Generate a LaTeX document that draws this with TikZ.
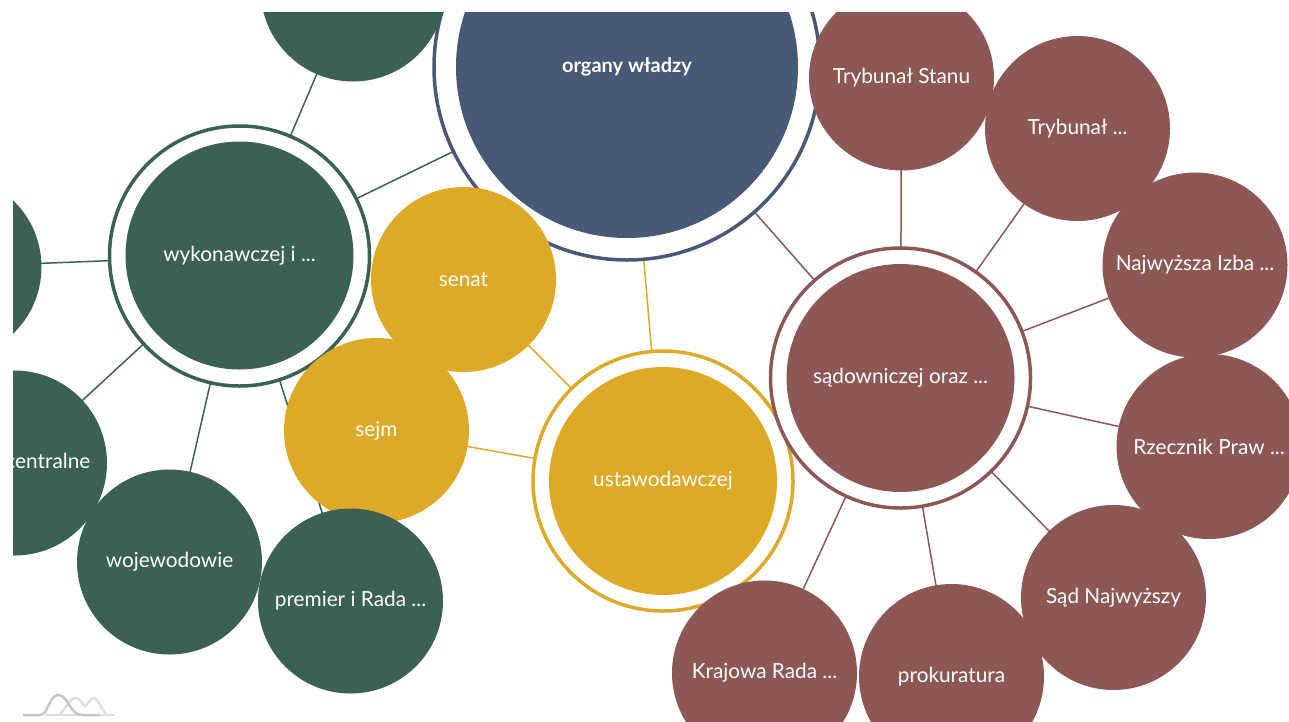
\documentclass[tikz,border=0pt]{standalone}
\usepackage{fontspec}
\setmainfont{Lato}
\usetikzlibrary{backgrounds}
\definecolor{rootblue}{HTML}{485877}
\definecolor{execgreen}{HTML}{3B6054}
\definecolor{lawgold}{HTML}{DDA927}
\definecolor{courtbrown}{HTML}{8C5755}
\tikzset{
  leaf/.style={circle, fill=#1, text=white, minimum size=185pt, inner sep=0pt, font=\fontsize{20.8}{24}\selectfont},
  hub/.style={circle, fill=#1, text=white, minimum size=228pt, inner sep=0pt, font=\fontsize{20.8}{24}\selectfont},
  ring/.style={circle, draw=#1, line width=3.5pt, fill=white, minimum size=260pt, inner sep=0pt},
  link/.style={line width=1.5pt, draw=#1},
}
\begin{document}
\begin{tikzpicture}[x=1pt,y=-1pt]
  \useasboundingbox (0,0) rectangle (1289,721);

  % logo
  \draw[line width=2.5pt, gray!25] (45,715) -- (115,715);
  \draw[line width=2.5pt, gray!25] (60,715) .. controls (70,700) and (73,697) .. (77,698) .. controls (81,699) and (82,706) .. (85,706) .. controls (88,705) and (90,698) .. (94,698) .. controls (98,699) and (102,710) .. (107,715);
  \draw[line width=2.5pt, gray!45] (23,715) -- (41,715) .. controls (48,713) and (50,695) .. (58,695) .. controls (68,695) and (70,715) .. (82,715) -- (100,715);

  \begin{scope}
  \clip (13,12) rectangle (1289,721);

  % main circles
  \node[ring=rootblue, minimum size=386pt] (rootring) at (627,67) {};
  \node[circle, fill=rootblue, text=white, minimum size=342pt, inner sep=0pt, font=\fontsize{20}{24}\bfseries\selectfont] (root) at (627,67) {organy władzy};

  \node[leaf=execgreen] (ex1) at (353,-11) {};
  \node[leaf=execgreen] (ex2) at (-51,267) {};
  \node[leaf=execgreen] (ex3) at (14.5,463) {};
  \node[anchor=east, inner sep=0pt, text=white, font=\fontsize{20.8}{24}\selectfont] (ex3text) at (90.5,461) {centralne};
  \node[leaf=execgreen] (wojewodowie) at (169.5,562) {wojewodowie};
  \node[ring=execgreen] (execring) at (239.5,256) {};
  \node[hub=execgreen] (exec) at (239.5,255.5) {wykonawczej i ...};

  \node[leaf=lawgold] (senat) at (463.5,279.5) {senat};
  \node[leaf=lawgold] (sejm) at (376.5,430.5) {sejm};
  \node[leaf=execgreen] (premier) at (350.5,601) {premier i Rada ...};
  \node[ring=lawgold] (lawring) at (663,481) {};
  \node[hub=lawgold] (law) at (663,481) {ustawodawczej};

  \node[ring=courtbrown] (courtring) at (900.5,378) {};
  \node[hub=courtbrown] (court) at (900.5,378) {sądowniczej oraz ...};
  \node[leaf=courtbrown] (stanu) at (901.5,78) {Trybunał Stanu};
  \node[leaf=courtbrown] (tryb) at (1077.5,128.5) {Trybunał ...};
  \node[leaf=courtbrown] (izba) at (1195,265) {Najwyższa Izba ...};
  \node[leaf=courtbrown] (rpo) at (1209,446.5) {Rzecznik Praw ...};
  \node[leaf=courtbrown] (sad) at (1113.5,597.5) {Sąd Najwyższy};
  \node[leaf=courtbrown] (prok) at (951.5,676.5) {prokuratura};
  \node[leaf=courtbrown] (krs) at (764.5,673) {Krajowa Rada ...};

  % connectors
  \begin{scope}[on background layer]
    \clip (13,12) rectangle (1289,721);
    \draw[link=execgreen] (root.center) -- (exec.center);
    \draw[link=lawgold] (root.center) -- (law.center);
    \draw[link=courtbrown] (root.center) -- (court.center);
    \foreach \leafname in {ex1,ex2,ex3,wojewodowie,premier}
      \draw[link=execgreen] (exec.center) -- (\leafname.center);
    \foreach \leafname in {senat,sejm}
      \draw[link=lawgold] (law.center) -- (\leafname.center);
    \foreach \leafname in {stanu,tryb,izba,rpo,sad,prok,krs}
      \draw[link=courtbrown] (court.center) -- (\leafname.center);
  \end{scope}
  \end{scope}
\end{tikzpicture}
\end{document}
